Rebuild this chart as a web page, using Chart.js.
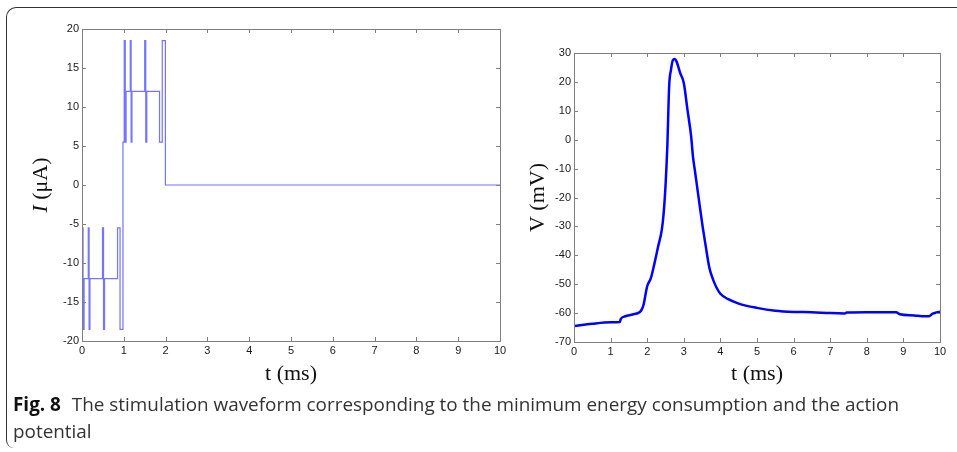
<!DOCTYPE html>
<html>
<head>
<meta charset="utf-8">
<script src="https://cdn.jsdelivr.net/npm/chart.js@4.4.1/dist/chart.umd.min.js"></script>
<style>
  html, body { margin: 0; padding: 0; background: #fff; }
  body { width: 957px; height: 452px; position: relative; overflow: hidden; }
  .frame {
    position: absolute; left: 6px; top: 7px; width: 1000px; height: 440px;
    border-top: 1.5px solid #333; border-left: 1.5px solid #333;
    border-top-left-radius: 10px; border-bottom-left-radius: 8px;
  }
  .panel { position: absolute; top: 0; }
  .caption {
    position: absolute; left: 13px; top: 391px; width: 925px;
    font-family: 'Open Sans', sans-serif; font-size: 18.9px; line-height: 27px; color: #333;
  }
  .caption b { color: #111; margin-right: 6px; }
</style>
</head>
<body>
<div class="frame"></div>
<canvas id="stimChart" class="panel" style="left:0" width="520" height="395"></canvas>
<canvas id="vChart" class="panel" style="left:520px" width="437" height="395"></canvas>
<div class="caption"><b>Fig. 8</b> The stimulation waveform corresponding to the minimum energy consumption and the action potential</div>

<script>
// ─── Data ─────────────────────────────────────────────────────────────────────

// stimulation current: each value holds from its time until the next one
const stimTimes = [0, 0.025, 0.05, 0.15, 0.17, 0.19, 0.49, 0.515, 0.54, 0.85, 0.91, 0.98,
                   1.01, 1.035, 1.055, 1.155, 1.175, 1.195, 1.50, 1.525, 1.55, 1.855, 1.92, 1.995, 10];
const stimCurrent = [-5.5, -18.5, -12, -5.5, -18.5, -12, -5.5, -18.5, -12, -5.5, -18.5, 5.5,
                     18.5, 5.5, 12, 18.5, 5.5, 12, 18.5, 5.5, 12, 5.5, 18.5, 0, 0];

// membrane potential
const vTimes = [0, 0.5, 1.0, 1.25, 1.28, 1.4, 1.6, 1.8, 1.85, 1.9, 2.0, 2.1, 2.2, 2.3, 2.4,
                2.45, 2.5, 2.55, 2.6, 2.65, 2.7, 2.75, 2.8, 2.9, 3.0, 3.1, 3.2, 3.25, 3.3, 3.4,
                3.5, 3.6, 3.7, 3.8, 3.9, 4.0, 4.2, 4.5, 5.0, 5.5, 6.0, 6.5, 7.0, 7.4, 7.45,
                8.0, 8.8, 8.9, 9.3, 9.5, 9.7, 9.8, 10];
const vMembrane = [-64.5, -63.7, -63.2, -63.1, -62, -61.1, -60.5, -59.6, -58.8, -57.1, -50.7, -47.9, -42.7, -36.9, -31.1,
                   -25.4, -16.1, -2.3, 18.5, 24.2, 27.5, 27.9, 27.1, 23.1, 19.6, 10.4, 1.2, -5.8, -10.4, -19.6,
                   -28.8, -36.9, -44.4, -48.4, -51.3, -53.3, -55.1, -56.7, -58.2, -59.2, -59.6, -59.7, -60.0, -60.1, -59.8,
                   -59.7, -59.7, -60.4, -60.8, -61.1, -61.1, -60.2, -59.5];

// tick labels
const timeTicks = [0, 1, 2, 3, 4, 5, 6, 7, 8, 9, 10];
const currentTicks = [-20, -15, -10, -5, 0, 5, 10, 15, 20];
const voltageTicks = [-70, -60, -50, -40, -30, -20, -10, 0, 10, 20, 30];

// ─── Helpers ──────────────────────────────────────────────────────────────────

const TICK_FONT = { family: 'Liberation Sans', size: 11 };

function toPoints(xs, ys) {
  return xs.map((x, i) => ({ x, y: ys[i] }));
}

function axis(ticks, size, horizontal) {
  return {
    type: 'linear',
    min: ticks[0],
    max: ticks[ticks.length - 1],
    afterBuildTicks: s => { s.ticks = ticks.map(v => ({ value: v })); },
    afterFit: s => { if (horizontal) s.height = size; else s.width = size; },
    ticks: { padding: 3, maxRotation: 0, autoSkip: false, color: '#1a1a1a', font: TICK_FONT },
    grid: { display: false, drawTicks: false },
    border: { display: false },
  };
}

// MATLAB style box with inward ticks on all four sides
const matlabBox = {
  id: 'matlabBox',
  afterDraw(chart) {
    const { ctx, chartArea: a, scales } = chart;
    ctx.save();
    ctx.strokeStyle = '#7f7f7f';
    ctx.lineWidth = 1;
    ctx.strokeRect(Math.round(a.left) + 0.5, Math.round(a.top) + 0.5,
                   Math.round(a.right - a.left), Math.round(a.bottom - a.top));
    const len = 4;
    ctx.beginPath();
    scales.x.ticks.forEach(t => {
      const px = Math.round(scales.x.getPixelForValue(t.value)) + 0.5;
      ctx.moveTo(px, a.bottom); ctx.lineTo(px, a.bottom - len);
      ctx.moveTo(px, a.top); ctx.lineTo(px, a.top + len);
    });
    scales.y.ticks.forEach(t => {
      const py = Math.round(scales.y.getPixelForValue(t.value)) + 0.5;
      ctx.moveTo(a.left, py); ctx.lineTo(a.left + len, py);
      ctx.moveTo(a.right, py); ctx.lineTo(a.right - len, py);
    });
    ctx.stroke();
    ctx.restore();
  },
};

// axis titles; yParts = [[text, italic], ...]
function titles(yParts, yX) {
  return {
    id: 'titles',
    afterDraw(chart) {
      const { ctx, chartArea: a } = chart;
      ctx.save();
      ctx.fillStyle = '#111';
      ctx.textBaseline = 'alphabetic';
      ctx.textAlign = 'center';
      ctx.font = '22px "Liberation Serif"';
      ctx.fillText('t (ms)', (a.left + a.right) / 2, 380);

      ctx.translate(yX, (a.top + a.bottom) / 2);
      ctx.rotate(-Math.PI / 2);
      ctx.textAlign = 'left';
      ctx.textBaseline = 'middle';
      const fonts = yParts.map(p => (p[1] ? 'italic ' : '') + '22px "Liberation Serif"');
      let total = 0;
      yParts.forEach((p, i) => { ctx.font = fonts[i]; total += ctx.measureText(p[0]).width; });
      let x = -total / 2;
      yParts.forEach((p, i) => {
        ctx.font = fonts[i];
        ctx.fillText(p[0], x, 0);
        x += ctx.measureText(p[0]).width;
      });
      ctx.restore();
    },
  };
}

function baseOptions(xScale, yScale, padding) {
  return {
    responsive: false,
    animation: false,
    devicePixelRatio: 1,
    layout: { padding },
    plugins: { legend: { display: false }, tooltip: { enabled: false } },
    scales: { x: xScale, y: yScale },
  };
}

// ─── Charts ───────────────────────────────────────────────────────────────────

new Chart(document.getElementById('stimChart'), {
  type: 'line',
  data: {
    datasets: [{
      data: toPoints(stimTimes, stimCurrent),
      stepped: true,
      borderColor: '#7474ff',
      borderWidth: 1.2,
      pointRadius: 0,
      fill: false,
    }],
  },
  options: baseOptions(axis(timeTicks, 54, true), axis(currentTicks, 82, false),
                       { top: 29, right: 20, left: 0, bottom: 0 }),
  plugins: [matlabBox, titles([['I', true], [' (μA)', false]], 41)],
});

new Chart(document.getElementById('vChart'), {
  type: 'line',
  data: {
    datasets: [{
      data: toPoints(vTimes, vMembrane),
      borderColor: '#0000ff',
      borderWidth: 2.5,
      pointRadius: 0,
      tension: 0.2,
      cubicInterpolationMode: 'monotone',
      fill: false,
    }],
  },
  options: baseOptions(axis(timeTicks, 53, true), axis(voltageTicks, 54, false),
                       { top: 53, right: 17, left: 0, bottom: 0 }),
  plugins: [matlabBox, titles([['V (mV)', false]], 18.5)],
});
</script>
</body>
</html>
